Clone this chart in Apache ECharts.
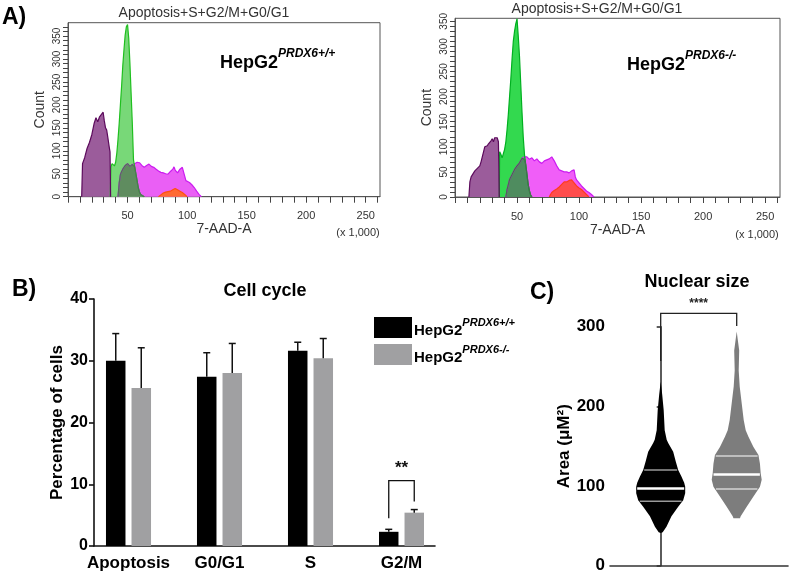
<!DOCTYPE html>
<html><head><meta charset="utf-8">
<script src="https://cdn.jsdelivr.net/npm/echarts@6/dist/echarts.min.js"></script>
<style>html,body{margin:0;padding:0;background:#fff}#c{width:789px;height:575px}</style>
</head><body><div id="c"></div>
<script>
// ---------- Panel A: flow histograms (x in units of 1,000) ----------
const PUR_L_X = [11.5,12.2,14,16,18,20,22,23.5,25,26.5,28,29.5,30.5,31.5,32.5,33.5,34.5,35.3,35.8];
const PUR_L_Y = [0,72,85,105,118,135,160,172,163,174,178,184,165,150,145,128,110,97,0];
const GRN_L_X = [35.5,36,37,38,39,40,41,42,43,44,45,46,47,48,49,50,51,52,53,54,55,56,57,58,59,60,61,62,64];
const GRN_L_Y = [0,65,72,68,67,75,95,125,160,200,240,285,320,352,370,375,345,290,225,160,80,65,50,35,20,10,5,2,0];
const OVL_L_X = [42,43,44,45,46,47,48,49,50,51,52,53,54,55,56,57,58,59,60,61,62,64];
const OVL_L_Y = [0,30,48,55,60,64,68,70,72,68,66,68,70,70,65,50,35,20,10,5,2,0];
const S_L_X = [42,43,44,45,46,47,48,49,50,51,52,53,54,55,56,58,60,62,64,66,68,70,72,74,76,78,80,82,84,86,88,89,90,92,94,96,97,98,99,100,102,104,106,108,110,112];
const S_L_Y = [0,30,48,55,60,64,68,70,72,68,66,68,70,70,72,75,74,68,64,68,71,66,64,60,56,53,52,50,49,55,60,65,58,52,60,64,62,45,35,33,31,26,20,12,5,0];
const ORG_L_X = [76,78,80,82,84,86,88,90,91,92,94,96,98,100];
const ORG_L_Y = [0,4,8,10,11,12,15,18,20,15,12,9,5,0];

const PUR_R_X = [11.2,12,13,14,15,16,17,18,19,20,21,22,23,24,25,26,27,28,29,30,31,32,33,34,35,35.7];
const PUR_R_Y = [0,30,40,44,48,52,55,57,60,62,70,80,90,100,98,102,106,104,112,116,110,118,121,118,110,0];
const GRN_R_X = [35.7,36,37,38,39,40,41,42,43,44,45,46,47,48,49,50,51,52,53,54,55,56,57,58,59,60,61,62];
const GRN_R_Y = [0,90,85,78,80,95,110,135,165,200,235,275,310,330,345,355,320,280,225,170,120,85,65,45,25,12,4,0];
const OVL_R_X = [41,42,44,46,48,50,52,54,55,56,57,58,59,60,61,62];
const OVL_R_Y = [0,15,35,45,55,62,68,77,77,75,65,45,25,12,4,0];
const S_R_X = [41,42,44,46,48,50,52,54,56,58,60,62,64,66,68,70,72,74,76,78,80,82,84,86,88,90,92,94,96,97,98,100,102,104,106,108,110,112];
const S_R_Y = [0,15,35,45,55,62,68,77,80,80,75,78,72,76,70,67,72,74,76,80,72,62,54,52,50,50,48,52,54,40,34,28,22,17,12,9,5,0];
const ORG_R_X = [76,77,78,80,82,84,86,88,90,92,94,96,98,100,102,104,106,108];
const ORG_R_Y = [0,5,9,13,16,20,25,30,30,33,34,28,22,18,15,10,5,0];

// ---------- Panel B: cell cycle ----------
const CATS = ['Apoptosis','G0/G1','S','G2/M'];
const WT_MEAN = [30.0, 27.4, 31.6, 2.3];
const WT_SD   = [4.4, 3.9, 1.4, 0.4];
const KO_MEAN = [25.6, 28.0, 30.4, 5.4];
const KO_SD   = [6.5, 4.8, 3.2, 0.5];
const B_BRACKET = [3, 4.5, 10.6, 7.2]; // category, left foot, top, right foot
const B_SIG = '**';

// ---------- Panel C: nuclear size violins ----------
const WT_V_VAL = [231,215,195,170,158,154,143,131,120,112,104,99,91,82,74,62,49,42,41];
const WT_V_DEN = [0,0.06,0.12,0.16,0.24,0.30,0.50,0.60,0.70,0.83,0.94,0.98,0.98,0.90,0.70,0.43,0.23,0.08,0];
const KO_V_VAL = [294,270,245,225,204,183,170,162,149,139,128,116,108,99,87,74,62,59.5];
const KO_V_DEN = [0,0.10,0.08,0.12,0.20,0.28,0.36,0.47,0.67,0.87,0.93,0.96,1.0,0.93,0.67,0.40,0.16,0.13];
const WT_Q = [81, 97, 120];
const KO_Q = [96.2, 114.6, 137.6];
const C_BRACKET = [0, 1, 257, 316.7, 300.8];
const C_SIG = '****';

const FONT = '"Liberation Sans", Arial, sans-serif';
const chart = echarts.init(document.getElementById('c'), null, {renderer:'canvas'});

function pairs(xs, ys){ return xs.map((x,i)=>[x, ys[i]]); }
function hist(name, xs, ys, fill, stroke, ai){
  return {type:'line', name, xAxisIndex:ai, yAxisIndex:ai, data:pairs(xs,ys), showSymbol:false,
    symbol:'none', lineStyle:{color:stroke, width:1.2}, itemStyle:{color:stroke},
    areaStyle:{color:fill, opacity:1}, silent:true};
}
function histX(gi){
  return {gridIndex:gi, type:'value', min:0, max:262, interval:10,
    axisLine:{show:true, lineStyle:{color:'#555', width:1}},
    axisTick:{show:true, length:6, lineStyle:{color:'#444'}},
    axisLabel:{fontSize:11, color:'#333', fontFamily:FONT, margin:14, showMaxLabel:false,
      formatter:v => (v>0 && v%50===0) ? String(v) : ''},
    splitLine:{show:false},
    name:'7-AAD-A', nameLocation:'middle', nameGap:21,
    nameTextStyle:{fontSize:14, color:'#333', fontFamily:FONT}};
}
function histY(gi, max){
  return {gridIndex:gi, type:'value', min:0, max:max, interval:10,
    axisLine:{show:true, lineStyle:{color:'#555', width:1}},
    axisTick:{show:true, length:5, lineStyle:{color:'#444'}},
    axisLabel:{fontSize:10, color:'#333', fontFamily:FONT, rotate:90, margin:6, showMaxLabel:false,
      formatter:v => (v%50===0) ? String(v) : ''},
    splitLine:{show:false},
    name:'Count', nameLocation:'middle', nameGap:21,
    nameTextStyle:{fontSize:14, color:'#333', fontFamily:FONT}};
}

function interpW(vals, dens, v){
  for (let i=0;i<vals.length-1;i++){
    const a=vals[i], b=vals[i+1];
    if ((v<=a && v>=b)){ const t=(a-v)/(a-b||1); return dens[i]+(dens[i+1]-dens[i])*t; }
  }
  return 0;
}
const VIOLIN_HALF = 25;
const VIOLINS = [
  {vals:WT_V_VAL, dens:WT_V_DEN, q:WT_Q, fill:'#000000', qColor:'#9a9a9a'},
  {vals:KO_V_VAL, dens:KO_V_DEN, q:KO_Q, fill:'#7d7d7d', qColor:'#d4d4d4'}
];
function violinRender(params, api){
  const vi = VIOLINS[params.dataIndex];
  const cx = api.coord([api.value(0), 0])[0];
  const right = vi.vals.map((v,i)=>[cx + vi.dens[i]*VIOLIN_HALF, api.coord([0, v])[1]]);
  const left = vi.vals.map((v,i)=>[cx - vi.dens[i]*VIOLIN_HALF, api.coord([0, v])[1]]).reverse();
  const children = [{type:'polygon', shape:{points:right.concat(left)}, style:{fill:vi.fill, stroke:null}}];
  vi.q.forEach((q,k)=>{
    const w = interpW(vi.vals, vi.dens, q)*VIOLIN_HALF - 1;
    const y = api.coord([0,q])[1];
    children.push({type:'line', shape:{x1:cx-w, y1:y, x2:cx+w, y2:y},
      style:{stroke: k===1 ? '#ffffff' : vi.qColor, lineWidth: k===1 ? 2.5 : 1.5}});
  });
  return {type:'group', children};
}
function errRender(dx){
  return function(params, api){
    const p0 = api.coord([api.value(0), api.value(1)]);
    const p1 = api.coord([api.value(0), api.value(1)+api.value(2)]);
    const x = p0[0]+dx;
    return {type:'group', children:[
      {type:'line', shape:{x1:x,y1:p0[1],x2:x,y2:p1[1]}, style:{stroke:'#111', lineWidth:1.5}},
      {type:'line', shape:{x1:x-3.5,y1:p1[1],x2:x+3.5,y2:p1[1]}, style:{stroke:'#111', lineWidth:1.5}}
    ]};
  };
}
const BAR_OFF = 12.75;
function bBracketRender(params, api){
  const c = api.value(0);
  const pl = api.coord([c, api.value(1)]), pt = api.coord([c, api.value(2)]), pr = api.coord([c, api.value(3)]);
  const xl = pl[0]-BAR_OFF, xr = pl[0]+BAR_OFF;
  return {type:'group', children:[
    {type:'polyline', shape:{points:[[xl,pl[1]],[xl,pt[1]],[xr,pt[1]],[xr,pr[1]]]}, style:{stroke:'#111', lineWidth:1.3, fill:null}},
    {type:'text', style:{x:pl[0], y:pt[1]-4, text:B_SIG, textAlign:'center', textVerticalAlign:'bottom', font:'bold 17px '+FONT, fill:'#111'}}
  ]};
}
function cBracketRender(params, api){
  const pl = api.coord([api.value(0), api.value(2)]), pt = api.coord([api.value(0), api.value(3)]), pr = api.coord([api.value(1), api.value(4)]);
  return {type:'group', children:[
    {type:'polyline', shape:{points:[[pl[0],pl[1]],[pl[0],pt[1]],[pr[0],pt[1]],[pr[0],pr[1]]]}, style:{stroke:'#222', lineWidth:1.3, fill:null}},
    {type:'text', style:{x:(pl[0]+pr[0])/2, y:pt[1]-4, text:C_SIG, textAlign:'center', textVerticalAlign:'bottom', font:'bold 12px '+FONT, fill:'#222'}}
  ]};
}

const heading = (txt, x, y, size) => ({type:'text', x, y, silent:true,
  style:{text:txt, font:'bold '+size+'px '+FONT, fill:'#000', textVerticalAlign:'top'}});
const hepRich = {a:{fontSize:18, fontWeight:'bold', fontFamily:FONT, color:'#000', lineHeight:24, verticalAlign:'bottom'},
                 s:{fontSize:12, fontWeight:'bold', fontStyle:'italic', fontFamily:FONT, color:'#000', verticalAlign:'top', lineHeight:14}};

const option = {
  animation:false,
  backgroundColor:'#fff',
  grid:[
    {left:68, top:22.7, width:312, height:174, show:true, borderColor:'#555', borderWidth:1, backgroundColor:'transparent'},
    {left:455, top:18.3, width:325, height:178.7, show:true, borderColor:'#555', borderWidth:1, backgroundColor:'transparent'},
    {left:83, top:299, width:364, height:247},
    {left:94, top:299, width:341, height:247},
    {left:610, top:326.7, width:178, height:239}
  ],
  xAxis:[
    histX(0), histX(1),
    {gridIndex:2, type:'category', data:CATS, axisLine:{show:false}, axisTick:{show:false},
      axisLabel:{interval:0, fontSize:17, fontWeight:'bold', color:'#000', fontFamily:FONT, margin:9}},
    {gridIndex:3, type:'value', min:0, max:1, axisLine:{show:true, lineStyle:{color:'#111', width:1.6}},
      axisTick:{show:false}, axisLabel:{show:false}, splitLine:{show:false}},
    {gridIndex:4, type:'value', min:-0.667, max:1.675, axisLine:{show:true, lineStyle:{color:'#333', width:1.6}},
      axisTick:{show:false}, axisLabel:{show:false}, splitLine:{show:false}}
  ],
  yAxis:[
    histY(0, 379), histY(1, 356),
    {gridIndex:2, type:'value', min:0, max:40, show:false, splitLine:{show:false}},
    {gridIndex:3, type:'value', min:0, max:40, interval:10,
      axisLine:{show:true, lineStyle:{color:'#111', width:1.6}},
      axisTick:{show:true, length:5, lineStyle:{color:'#111', width:1.6}},
      axisLabel:{fontSize:16, fontWeight:'bold', color:'#000', fontFamily:FONT, margin:6},
      splitLine:{show:false},
      name:'Percentage of cells', nameLocation:'middle', nameGap:28,
      nameTextStyle:{fontSize:17, fontWeight:'bold', color:'#000', fontFamily:FONT}},
    {gridIndex:4, type:'value', min:0, max:300, interval:100,
      axisLine:{show:true, lineStyle:{color:'#333', width:1.6}},
      axisTick:{show:true, length:4, lineStyle:{color:'#333', width:1.6}},
      axisLabel:{fontSize:17, fontWeight:'bold', color:'#000', fontFamily:FONT, margin:5},
      splitLine:{show:false},
      name:'Area (μM²)', nameLocation:'middle', nameGap:34,
      nameTextStyle:{fontSize:17, fontWeight:'bold', color:'#000', fontFamily:FONT}}
  ],
  legend:{orient:'vertical', left:369, top:312, itemWidth:38, itemHeight:21, itemGap:6, icon:'rect',
    selectedMode:false, data:['wt','ko'],
    formatter: n => n==='wt' ? '{a|HepG2}{s|PRDX6+/+}' : '{a|HepG2}{s|PRDX6-/-}',
    textStyle:{padding:[0,0,0,-3], rich:{a:{fontSize:15, fontWeight:'bold', fontFamily:FONT, color:'#000', lineHeight:21, verticalAlign:'bottom'},
                     s:{fontSize:11, fontWeight:'bold', fontStyle:'italic', fontFamily:FONT, color:'#000', verticalAlign:'top', lineHeight:13}}}},
  series:[
    hist('S', S_L_X, S_L_Y, '#ea5ff5', '#cc1cf0', 0),
    hist('G0/G1', GRN_L_X, GRN_L_Y, '#78d878', '#1fbf1f', 0),
    hist('overlap', OVL_L_X, OVL_L_Y, '#5f8c5f', '#52705a', 0),
    hist('Apoptosis', PUR_L_X, PUR_L_Y, '#9b5c9b', '#5c0a5c', 0),
    hist('G2/M', ORG_L_X, ORG_L_Y, '#ff6a33', '#ff5010', 0),
    hist('S', S_R_X, S_R_Y, '#f05ef8', '#cc1cf0', 1),
    hist('G0/G1', GRN_R_X, GRN_R_Y, '#33d94f', '#00b020', 1),
    hist('overlap', OVL_R_X, OVL_R_Y, '#4f8c5f', '#4a6a52', 1),
    hist('Apoptosis', PUR_R_X, PUR_R_Y, '#9b5c9b', '#5c0a5c', 1),
    hist('G2/M', ORG_R_X, ORG_R_Y, '#ff4d4d', '#ff3b1f', 1),
    {type:'bar', name:'wt', xAxisIndex:2, yAxisIndex:2, data:WT_MEAN, barWidth:19.5, barGap:'31%', itemStyle:{color:'#000'}},
    {type:'bar', name:'ko', xAxisIndex:2, yAxisIndex:2, data:KO_MEAN, barWidth:19.5, barGap:'31%', itemStyle:{color:'#a0a0a2'}},
    {type:'custom', xAxisIndex:2, yAxisIndex:2, data:WT_MEAN.map((m,i)=>[i,m,WT_SD[i]]), renderItem:errRender(-BAR_OFF), z:5},
    {type:'custom', xAxisIndex:2, yAxisIndex:2, data:KO_MEAN.map((m,i)=>[i,m,KO_SD[i]]), renderItem:errRender(BAR_OFF), z:5},
    {type:'custom', xAxisIndex:2, yAxisIndex:2, data:[B_BRACKET], renderItem:bBracketRender, z:5, clip:false},
    {type:'custom', xAxisIndex:4, yAxisIndex:4, data:[[0, WT_Q[1]],[1, KO_Q[1]]], renderItem:violinRender, clip:false},
    {type:'custom', xAxisIndex:4, yAxisIndex:4, data:[C_BRACKET], renderItem:cBracketRender, clip:false,
      encode:{x:[0,1], y:[2,3,4]}}
  ],
  graphic:[
    heading('A)', 2, 6, 23),
    heading('B)', 12, 278, 23),
    heading('C)', 530, 281, 23),
    {type:'text', x:204, y:6, silent:true, style:{text:'Apoptosis+S+G2/M+G0/G1', font:'14px '+FONT, fill:'#333', textAlign:'center', textVerticalAlign:'top'}},
    {type:'text', x:597, y:2, silent:true, style:{text:'Apoptosis+S+G2/M+G0/G1', font:'14px '+FONT, fill:'#333', textAlign:'center', textVerticalAlign:'top'}},
    {type:'text', x:358, y:227, silent:true, style:{text:'(x 1,000)', font:'11px '+FONT, fill:'#333', textAlign:'center', textVerticalAlign:'top'}},
    {type:'text', x:757, y:229, silent:true, style:{text:'(x 1,000)', font:'11px '+FONT, fill:'#333', textAlign:'center', textVerticalAlign:'top'}},
    {type:'text', x:220, y:48, silent:true, style:{text:'{a|HepG2}{s|PRDX6+/+}', rich:hepRich}},
    {type:'text', x:627, y:50, silent:true, style:{text:'{a|HepG2}{s|PRDX6-/-}', rich:hepRich}},
    {type:'text', x:265, y:282, silent:true, style:{text:'Cell cycle', font:'bold 18px '+FONT, fill:'#000', textAlign:'center', textVerticalAlign:'top'}},
    {type:'text', x:697, y:273, silent:true, style:{text:'Nuclear size', font:'bold 18px '+FONT, fill:'#000', textAlign:'center', textVerticalAlign:'top'}}
  ]
};
chart.setOption(option);
</script></body></html>
